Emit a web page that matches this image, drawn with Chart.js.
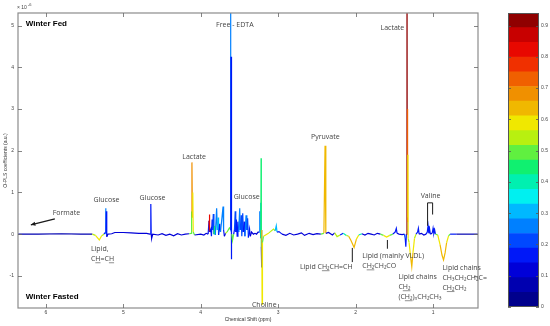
<!DOCTYPE html>
<html><head><meta charset="utf-8">
<script src="https://cdn.jsdelivr.net/npm/chart.js@4/dist/chart.umd.min.js"></script>
<style>
html,body{margin:0;padding:0;background:#fff;width:550px;height:326px;overflow:hidden}
#wrap{position:relative;width:550px;height:326px}
canvas{position:absolute;top:0}
#main{left:0}
#cbar{left:490px}
</style></head>
<body><div id="wrap"><canvas id="main" width="550" height="326"></canvas><canvas id="cbar" width="60" height="326"></canvas></div>
<script>
// ---- spectrum (chemical shift, O-PLS coefficient x1e-6, correlation r2 used for colour) ----
const ppm = [
 6.36,6.10,5.80,5.55,5.40,
 5.36,5.31,5.28,5.25,5.235,5.228,5.224,5.220,5.214,5.20,
 5.15,5.11,5.00,4.90,4.80,4.70,4.655,4.645,4.640,4.634,4.620,4.55,4.50,4.45,4.40,4.35,4.30,4.25,4.20,4.15,
 4.125,4.118,4.114,4.108,4.103,4.097,4.080,4.00,3.96,3.93,
 3.905,3.893,3.889,3.884,3.870,3.862,3.853,3.847,3.838,3.830,3.820,3.812,3.795,3.786,3.777,3.770,3.755,3.745,3.712,3.705,3.695,3.680,3.660,3.630,
 3.618,3.615,3.612,3.609,3.606,3.600,3.590,3.575,
 3.565,3.555,3.548,3.540,3.530,3.520,3.510,3.497,3.490,3.478,3.470,3.458,3.450,3.440,3.430,3.415,3.405,3.395,3.385,3.370,3.360,3.345,3.320,3.300,3.280,3.260,
 3.245,3.238,3.232,3.227,3.224,3.221,3.218,3.215,3.212,3.208,3.203,3.190,3.120,3.060,3.040,3.025,3.015,2.990,
 2.95,2.90,2.85,2.80,2.75,2.70,2.66,2.60,2.55,2.50,2.45,2.410,2.395,2.385,2.35,2.30,2.27,2.24,2.20,2.16,2.12,
 2.09,2.06,2.02,1.99,1.96,1.92,1.88,1.84,1.80,1.76,1.72,1.68,1.64,1.60,1.56,1.52,1.49,1.475,1.465,1.44,1.40,1.37,
 1.360,1.352,1.345,1.337,1.334,1.331,1.328,1.325,1.322,1.31,1.29,1.275,1.26,1.24,1.22,1.20,1.19,1.18,1.15,1.12,1.09,
 1.075,1.065,1.055,1.045,1.035,1.010,1.000,0.990,0.980,0.970,
 0.94,0.91,0.885,0.865,0.845,0.825,0.80,0.78,0.70,0.60,0.42
];
const coef = [
 0,0.00,0.01,0.00,0.00,
 -0.03,-0.14,-0.04,0.00,0.04,0.62,0.02,0.55,-0.06,0.00,
 0.01,0.04,0.04,0.03,0.02,0.02,0.00,0.72,0.00,-0.10,0.00,-0.02,0.01,-0.03,0.00,-0.04,0.01,-0.02,0.00,0.01,
 0.02,0.55,1.72,0.40,1.00,0.05,-0.02,0.00,-0.02,0.02,
 0.00,0.32,0.47,0.05,0.12,-0.05,0.35,0.10,0.48,0.00,0.20,-0.02,0.62,0.10,0.40,-0.02,0.25,0.05,0.66,0.10,-0.05,0.02,0.05,0.15,
 0.12,9.0,0.10,4.25,-0.60,0.00,-0.15,0.00,
 0.10,0.55,0.05,0.35,-0.05,0.30,0.05,0.62,0.10,0.45,-0.05,0.50,0.05,0.30,-0.05,0.45,0.10,0.38,-0.08,0.12,-0.05,0.05,0.00,0.02,0.00,0.05,
 0.05,0.55,0.20,0.75,-0.10,1.82,-0.30,-0.80,0.10,-1.68,-0.20,-0.05,0.03,0.12,0.08,0.20,0.05,0.06,
 0.00,-0.03,0.02,-0.02,0.00,0.03,-0.03,0.02,-0.01,0.01,0.00,0.02,2.12,0.02,0.04,-0.02,0.03,-0.06,-0.02,0.02,-0.03,
 -0.05,-0.15,-0.32,-0.12,-0.02,0.01,-0.02,0.02,0.00,-0.02,0.02,0.00,-0.03,-0.07,-0.03,0.00,0.05,0.14,0.02,0.00,-0.01,0.00,
 -0.10,-0.30,0.00,9.0,0.30,3.00,0.40,1.90,-0.10,-0.20,-0.55,-0.78,-0.45,-0.10,0.00,0.05,0.14,0.00,0.02,-0.02,0.00,
 0.05,0.20,0.02,0.12,0.00,0.03,0.14,0.02,0.10,0.00,
 -0.02,-0.25,-0.50,-0.62,-0.45,-0.20,-0.04,0.00,0.00,0.00,0.00
];
const corr = [
 0.05,0.05,0.05,0.06,0.08,
 0.55,0.60,0.55,0.20,0.15,0.26,0.15,0.15,0.10,0.10,
 0.10,0.12,0.10,0.10,0.10,0.10,0.10,0.15,0.12,0.12,0.10,0.10,0.10,0.10,0.10,0.10,0.10,0.10,0.10,0.10,
 0.50,0.50,0.70,0.58,0.58,0.50,0.10,0.10,0.10,0.10,
 0.10,0.15,0.80,0.15,0.15,0.10,0.18,0.15,0.22,0.15,0.45,0.10,0.24,0.18,0.30,0.15,0.18,0.15,0.26,0.18,0.10,0.10,0.55,0.50,
 0.30,0.28,0.28,0.15,0.15,0.10,0.50,0.30,
 0.15,0.22,0.15,0.18,0.10,0.18,0.15,0.24,0.18,0.22,0.10,0.20,0.15,0.18,0.10,0.24,0.15,0.20,0.10,0.15,0.10,0.10,0.10,0.10,0.10,0.10,
 0.10,0.26,0.22,0.30,0.15,0.45,0.20,0.12,0.12,0.60,0.50,0.58,0.58,0.55,0.30,0.30,0.20,0.15,
 0.10,0.10,0.10,0.10,0.10,0.10,0.10,0.10,0.10,0.10,0.10,0.50,0.62,0.50,0.10,0.10,0.10,0.55,0.15,0.10,0.40,
 0.55,0.62,0.64,0.60,0.40,0.10,0.10,0.10,0.10,0.10,0.10,0.10,0.50,0.58,0.50,0.20,0.15,0.15,0.10,0.10,0.10,0.15,
 0.20,0.15,0.50,0.93,0.93,0.72,0.72,0.58,0.58,0.55,0.60,0.62,0.60,0.55,0.40,0.15,0.15,0.10,0.10,0.10,0.10,
 0.15,0.15,0.10,0.15,0.10,0.10,0.15,0.10,0.15,0.10,
 0.50,0.60,0.62,0.63,0.62,0.58,0.50,0.15,0.08,0.08,0.08
];
const xTicks = [6,5,4,3,2,1];
const yTicks = [-1,0,1,2,3,4,5];
// ---- colour bar ----
const cbarTicks = [0,0.1,0.2,0.3,0.4,0.5,0.6,0.7,0.8,0.9];
const cbarEdges = [0,0.047,0.094,0.141,0.188,0.235,0.282,0.329,0.376,0.423,0.47,0.517,0.564,0.611,0.658,0.705,0.752,0.799,0.846,0.893,0.94];
const cbarColors = ['#00008C','#0000B0','#0000D8','#0018F8','#0048FF','#0080FF','#00B8FF','#00F0F0','#00F0B0','#10F070',
                    '#60F040','#B8F010','#F0E800','#F0B800','#F09000','#F06000','#F03000','#E80800','#C80000','#900000'];

function colorFor(v){
  for (let k=1;k<cbarEdges.length;k++){ if (v < cbarEdges[k]) return cbarColors[k-1]; }
  return cbarColors[cbarColors.length-1];
}

// ---- annotations (data coordinates) ----
const ANN_FONT = '7px "Open Sans"';
const texts = [
 {p:[['Winter Fed',0]], x:6.26, y:5.04, a:'left', bold:true},
 {p:[['Winter Fasted',0]], x:6.26, y:-1.51, a:'left', bold:true},
 {p:[['Formate',0]], x:5.735, y:0.51, a:'center'},
 {p:[['Glucose',0]], x:5.218, y:0.82, a:'center'},
 {p:[['Glucose',0]], x:4.623, y:0.87, a:'center'},
 {p:[['Lactate',0]], x:4.086, y:1.85, a:'center'},
 {p:[['Free - EDTA',0]], x:3.56, y:5.02, a:'center'},
 {p:[['Glucose',0]], x:3.407, y:0.89, a:'center'},
 {p:[['Choline',0]], x:3.18, y:-1.69, a:'center'},
 {p:[['Lactate',0]], x:1.526, y:4.93, a:'center'},
 {p:[['Pyruvate',0]], x:2.392, y:2.33, a:'center'},
 {p:[['Lipid,',0]], x:5.418, y:-0.35, a:'left'},
 {p:[['C',0],['H',1],['=C',0],['H',1]], x:5.418, y:-0.59, a:'left'},
 {p:[['Lipid C',0],['H₂',1],['CH=CH',0]], x:2.379, y:-0.78, a:'center'},
 {p:[['Lipid (mainly VLDL)',0]], x:1.914, y:-0.52, a:'left'},
 {p:[['C',0],['H₂',1],['CH₂CO',0]], x:1.914, y:-0.76, a:'left'},
 {p:[['Lipid chains',0]], x:1.448, y:-1.02, a:'left'},
 {p:[['C',0],['H₂',1]], x:1.448, y:-1.26, a:'left'},
 {p:[['(C',0],['H₂',1],[')ₙCH₂CH₃',0]], x:1.448, y:-1.50, a:'left'},
 {p:[['Lipid chains',0]], x:0.879, y:-0.80, a:'left'},
 {p:[['CH₃CH₂CH₂C=',0]], x:0.879, y:-1.04, a:'left'},
 {p:[['C',0],['H₂',1],['CH₂',0]], x:0.879, y:-1.28, a:'left'},
 {p:[['Valine',0]], x:1.032, y:0.92, a:'center'}
];
const pointers = [
 {pts:[[2.043,-0.33],[2.043,-0.67]]},
 {pts:[[1.59,-0.14],[1.59,-0.35]]},
 {pts:[[5.884,0.367],[6.194,0.223]], arrow:true, w:1.3},
 {pts:[[1.071,0.20],[1.071,0.75],[1.006,0.75],[1.006,0.47]], w:1}
];

const overlay = {
  id:'overlay',
  afterDatasetsDraw(chart){
    const ctx = chart.ctx, xs = chart.scales.x, ys = chart.scales.y, ca = chart.chartArea;
    ctx.save();
    ctx.strokeStyle = '#8c8c8c'; ctx.lineWidth = 1.2;
    ctx.strokeRect(ca.left, ca.top, ca.right-ca.left, ca.bottom-ca.top);
    ctx.lineWidth = 0.8; ctx.strokeStyle = '#666';
    ctx.beginPath();
    xs.ticks.forEach(t=>{ const px = Math.round(xs.getPixelForValue(t.value))+0.5;
      ctx.moveTo(px, ca.bottom); ctx.lineTo(px, ca.bottom-4);
      ctx.moveTo(px, ca.top); ctx.lineTo(px, ca.top+4); });
    ys.ticks.forEach(t=>{ const py = Math.round(ys.getPixelForValue(t.value))+0.5;
      ctx.moveTo(ca.left, py); ctx.lineTo(ca.left+4, py);
      ctx.moveTo(ca.right, py); ctx.lineTo(ca.right-4, py); });
    ctx.stroke();
    ctx.fillStyle = '#444'; ctx.font = '5px "Liberation Sans"'; ctx.textBaseline='alphabetic'; ctx.textAlign='left';
    ctx.fillText('× 10', ca.left-1, ca.top-4);
    ctx.font = '4px "Liberation Sans"';
    ctx.fillText('-6', ca.left+10, ca.top-7);
    ctx.strokeStyle = '#1a1a1a'; ctx.fillStyle = '#1a1a1a';
    pointers.forEach(p=>{
      ctx.lineWidth = p.w || 1;
      ctx.beginPath();
      p.pts.forEach((q,i)=>{ const X = xs.getPixelForValue(q[0]), Y = ys.getPixelForValue(q[1]);
        if(i===0) ctx.moveTo(X,Y); else ctx.lineTo(X,Y); });
      ctx.stroke();
      if (p.arrow){
        const a = p.pts[p.pts.length-2], b = p.pts[p.pts.length-1];
        const x1=xs.getPixelForValue(a[0]), y1=ys.getPixelForValue(a[1]), x2=xs.getPixelForValue(b[0]), y2=ys.getPixelForValue(b[1]);
        const ang = Math.atan2(y2-y1, x2-x1), L=5, W=0.45;
        ctx.beginPath(); ctx.moveTo(x2,y2);
        ctx.lineTo(x2-L*Math.cos(ang-W), y2-L*Math.sin(ang-W));
        ctx.lineTo(x2-L*Math.cos(ang+W), y2-L*Math.sin(ang+W)); ctx.closePath(); ctx.fill();
      }
    });
    ctx.textBaseline = 'middle';
    texts.forEach(t=>{
      ctx.font = t.bold ? 'bold 8px "Liberation Sans"' : ANN_FONT;
      ctx.fillStyle = t.bold ? '#000' : '#444';
      ctx.strokeStyle = '#444';
      let total = 0; t.p.forEach(s=> total += ctx.measureText(s[0]).width);
      let X = xs.getPixelForValue(t.x); const Y = ys.getPixelForValue(t.y);
      if (t.a==='center') X -= total/2; else if (t.a==='right') X -= total;
      ctx.textAlign = 'left';
      t.p.forEach(s=>{
        const w = ctx.measureText(s[0]).width;
        ctx.fillText(s[0], X, Y);
        if (s[1]) { ctx.lineWidth=0.6; ctx.beginPath(); ctx.moveTo(X, Y+4); ctx.lineTo(X+w, Y+4); ctx.stroke(); }
        X += w;
      });
    });
    ctx.restore();
  }
};

new Chart(document.getElementById('main'), {
  type:'scatter',
  data:{ datasets:[{
    data: ppm.map((x,i)=>({x:x, y:coef[i]})),
    showLine:true, pointRadius:0, borderWidth:1.2, tension:0,
    borderColor: colorFor(0.1),
    segment:{ borderColor: c => { const a=c.p0DataIndex, b=c.p1DataIndex;
      const k = Math.abs(coef[a]) >= Math.abs(coef[b]) ? a : b; return colorFor(corr[k]); } }
  }]},
  options:{
    responsive:false, animation:false, devicePixelRatio:1,
    layout:{padding:{left:0, top:13, right:72, bottom:0}},
    plugins:{legend:{display:false}, tooltip:{enabled:false}},
    scales:{
      x:{type:'linear', reverse:true, min:0.42, max:6.36,
        afterBuildTicks: s => { s.ticks = xTicks.map(v=>({value:v})); },
        afterFit: s => { s.height = 18; },
        grid:{display:false, drawTicks:false}, border:{display:false},
        ticks:{font:{family:'Liberation Sans', size:5}, color:'#444', padding:2, maxRotation:0},
        title:{display:true, text:'Chemical Shift (ppm)', font:{family:'Liberation Sans', size:5}, color:'#333', padding:{top:0,bottom:3}}
      },
      y:{type:'linear', min:-1.77, max:5.30,
        afterBuildTicks: s => { s.ticks = yTicks.map(v=>({value:v})); },
        afterFit: s => { s.width = 18; },
        grid:{display:false, drawTicks:false}, border:{display:false},
        ticks:{font:{family:'Liberation Sans', size:5}, color:'#444', padding:4},
        title:{display:true, text:'O-PLS coefficients (a.u.)', font:{family:'Liberation Sans', size:5}, color:'#333', padding:{top:3,bottom:0}}
      }
    }
  },
  plugins:[overlay]
});

const cbarFrame = {
  id:'cbarFrame',
  afterDatasetsDraw(chart){
    const ctx=chart.ctx, ca=chart.chartArea, ys=chart.scales.y;
    ctx.save();
    ctx.strokeStyle='#555'; ctx.lineWidth=1;
    ctx.strokeRect(ca.left+0.5, ca.top+0.5, ca.right-ca.left-1, ca.bottom-ca.top-1);
    ctx.lineWidth=0.8; ctx.beginPath();
    ys.ticks.forEach(t=>{ const py=Math.round(ys.getPixelForValue(t.value))+0.5;
      ctx.moveTo(ca.left,py); ctx.lineTo(ca.left+3,py); ctx.moveTo(ca.right,py); ctx.lineTo(ca.right-3,py); });
    ctx.stroke(); ctx.restore();
  }
};

new Chart(document.getElementById('cbar'), {
  type:'bar',
  data:{ labels:[''], datasets: cbarColors.map((c,i)=>({
    data:[[cbarEdges[i], cbarEdges[i+1]]], backgroundColor:c, borderWidth:0,
    grouped:false, barPercentage:1, categoryPercentage:1 })) },
  options:{
    responsive:false, animation:false, devicePixelRatio:1,
    layout:{padding:{left:18, top:13, bottom:19, right:0}},
    plugins:{legend:{display:false}, tooltip:{enabled:false}},
    scales:{
      x:{display:false},
      y:{position:'right', min:0, max:0.94,
        afterBuildTicks: s => { s.ticks = cbarTicks.map(v=>({value:v})); },
        afterFit: s => { s.width = 11; },
        grid:{display:false, drawTicks:false}, border:{display:false},
        ticks:{font:{family:'Liberation Sans', size:5}, color:'#444', padding:2}
      }
    }
  },
  plugins:[cbarFrame]
});
</script>
</body></html>
